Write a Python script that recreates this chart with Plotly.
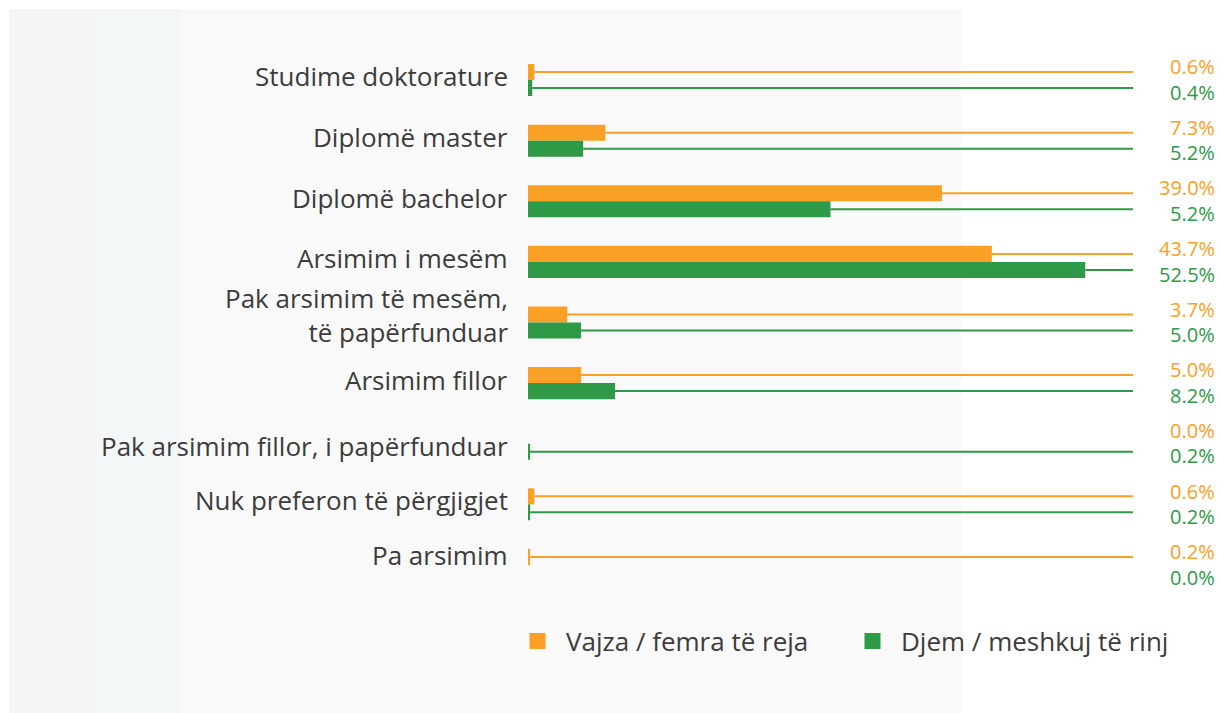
import plotly.graph_objects as go

categories = [
    "Studime doktorature",
    "Diplomë master",
    "Diplomë bachelor",
    "Arsimim i mesëm",
    "Pak arsimim të mesëm,<br>të papërfunduar",
    "Arsimim fillor",
    "Pak arsimim fillor, i papërfunduar",
    "Nuk preferon të përgjigjet",
    "Pa arsimim",
]
female = [0.6, 7.3, 39.0, 43.7, 3.7, 5.0, 0.0, 0.6, 0.2]
male = [0.4, 5.2, 28.5, 52.5, 5.0, 8.2, 0.2, 0.2, 0.0]
female_labels = ["0.6%", "7.3%", "39.0%", "43.7%", "3.7%", "5.0%", "0.0%", "0.6%", "0.2%"]
male_labels = ["0.4%", "5.2%", "5.2%", "52.5%", "5.0%", "8.2%", "0.2%", "0.2%", "0.0%"]
series_names = ["Vajza / femra të reja", "Djem / meshkuj të rinj"]

# vertical nudges (px, + = up) of the category labels
label_shift = [4, 4, 3, 4, 8, 3, -2, 4, 10]

ORANGE = "#F9A025"
GREEN = "#2E9A48"
TEXT = "#3C3C3C"
FONT = "Open Sans"

# page has an 8px body margin: figure coordinates = page coordinates - 8
OFF = 8
W, H = 1207, 705


def px(x):
    return (x - OFF) / W


def py(y):
    return 1 - (y - OFF) / H


XMAX = 57.0
BW = 0.264

idx = list(range(len(categories)))
fig = go.Figure()

# background panels
for x0, x1, col in [(9, 95, "#F5F5F5"), (95, 182, "#F4F7F8"), (182, 961, "#F9F9F9")]:
    fig.add_shape(type="rect", xref="paper", yref="paper", x0=px(x0), x1=px(x1), y0=-0.05, y1=py(9),
                  fillcolor=col, line_width=0, layer="below")


def segs(vals, off):
    xs, ys = [], []
    for i, v in zip(idx, vals):
        if v > 0:
            xs += [v, XMAX, None]
            ys += [i + off, i + off, None]
    return xs, ys


for vals, color, off in [(female, ORANGE, -BW / 2), (male, GREEN, BW / 2)]:
    xs, ys = segs(vals, off)
    fig.add_trace(go.Scatter(x=xs, y=ys, mode="lines", line=dict(color=color, width=2),
                             showlegend=False, hoverinfo="skip"))

fig.add_trace(go.Bar(y=idx, x=female, orientation="h", width=BW, offset=-BW,
                     marker=dict(color=ORANGE, line_width=0), showlegend=False))
fig.add_trace(go.Bar(y=idx, x=male, orientation="h", width=BW, offset=0,
                     marker=dict(color=GREEN, line_width=0), showlegend=False))

# legend entries
for name, color in zip(series_names, [ORANGE, GREEN]):
    fig.add_trace(go.Scatter(x=[None], y=[None], mode="markers", name=name,
                             marker=dict(symbol="square", size=20, color=color, line_width=0)))

for i, (cat, sh) in enumerate(zip(categories, label_shift)):
    fig.add_annotation(x=px(510), xref="paper", y=i, yref="y", yshift=sh, text=cat, showarrow=False,
                       xanchor="right", yanchor="middle", align="right",
                       font=dict(family=FONT, size=26, color=TEXT))

for i, (fl, ml) in enumerate(zip(female_labels, male_labels)):
    fig.add_annotation(x=px(1216), xref="paper", y=i - 0.22, yref="y", text=fl, showarrow=False,
                       xanchor="right", yanchor="middle", borderpad=0,
                       font=dict(family=FONT, size=20, color=ORANGE))
    fig.add_annotation(x=px(1216), xref="paper", y=i + 0.2, yref="y", text=ml, showarrow=False,
                       xanchor="right", yanchor="middle", borderpad=0,
                       font=dict(family=FONT, size=20, color=GREEN))

fig.update_layout(
    width=W, height=H,
    margin=dict(l=0, r=0, t=0, b=0),
    paper_bgcolor="white", plot_bgcolor="rgba(0,0,0,0)",
    barmode="overlay",
    font=dict(family=FONT, color=TEXT),
    xaxis=dict(domain=[px(528), px(1133)], range=[0, XMAX], visible=False, fixedrange=True),
    yaxis=dict(domain=[py(595.3), py(49.7)], range=[8.5, -0.5], visible=False),
    legend=dict(orientation="h", x=px(509), xanchor="left", y=py(641), yanchor="middle",
                font=dict(family=FONT, size=26, color=TEXT), bgcolor="rgba(0,0,0,0)",
                itemwidth=47, entrywidth=273, traceorder="normal"),
    showlegend=True,
)

fig.write_html("out.html")
